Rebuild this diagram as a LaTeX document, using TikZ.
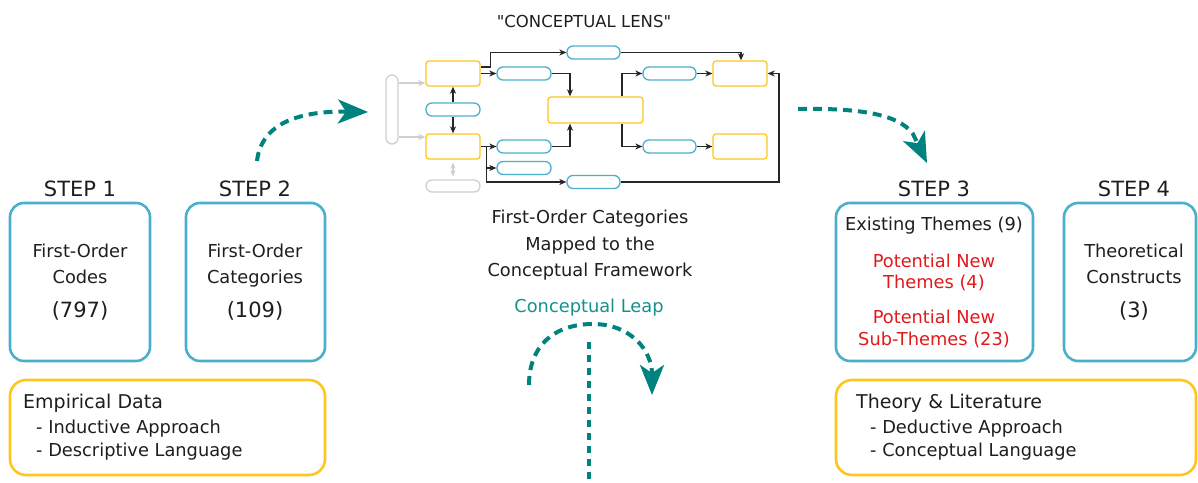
\documentclass[tikz,border=0pt]{standalone}
\usepackage{fontspec}
\setmainfont{DejaVu Sans}
\usetikzlibrary{arrows.meta,calc}
\definecolor{bbox}{HTML}{4BAFCB}
\definecolor{ybox}{HTML}{FFC61A}
\definecolor{tealc}{HTML}{00827F}
\definecolor{tealt}{HTML}{16908C}
\definecolor{redt}{HTML}{E0191B}
\definecolor{txt}{HTML}{1E1E1E}
\definecolor{lgray}{HTML}{CFCFCF}
\begin{document}
\begin{tikzpicture}[x=1pt,y=-1pt,
  stepbox/.style={draw=bbox, line width=2.6pt, rounded corners=14pt, inner sep=0},
  srcbox/.style={draw=ybox, line width=2.6pt, rounded corners=16pt, inner sep=0},
  lbl/.style={font=\fontsize{17.8}{21}\selectfont, text=txt, anchor=base, inner sep=0},
  big/.style={font=\fontsize{21}{25}\selectfont, text=txt, anchor=base, inner sep=0},
  redl/.style={lbl, text=redt},
  lensy/.style={draw=ybox, line width=1.3pt, rounded corners=3pt, minimum width=54pt, minimum height=25pt, inner sep=0},
  lensp/.style={draw=bbox, line width=1.3pt, rounded corners=6pt, minimum width=54pt, minimum height=13pt, inner sep=0},
  lensg/.style={draw=lgray, line width=1.3pt, rounded corners=6pt, inner sep=0},
  conn/.style={draw=black!85, line width=1.1pt, -{Stealth[length=7pt,width=6pt,inset=2pt]}},
  gconn/.style={draw=lgray, line width=1.3pt, -{Stealth[length=7pt,width=6pt,inset=2pt]}},
  leap/.style={draw=tealc, line width=4pt, dash pattern=on 9pt off 6pt, -{Stealth[length=30pt,width=24pt,inset=8pt]}}
]
\useasboundingbox (0,0) rectangle (1198,482);

% ---- step boxes
\node[stepbox, minimum width=140pt, minimum height=158pt] (s1) at (80,282) {};
\node[stepbox, minimum width=139pt, minimum height=158pt] (s2) at (255.5,282) {};
\node[stepbox, minimum width=197pt, minimum height=158pt] (s3) at (934.5,282) {};
\node[stepbox, minimum width=132pt, minimum height=158pt] (s4) at (1130,282) {};
\node[srcbox, minimum width=315pt, minimum height=95pt] (emp) at (167.5,427.5) {};
\node[srcbox, minimum width=360pt, minimum height=95pt] (the) at (1016,427.5) {};

% ---- step labels
\node[big] (l1) at (80,196) {STEP 1};
\node[big] (l2) at (255,196) {STEP 2};
\node[big] (l3) at (934,196) {STEP 3};
\node[big] (l4) at (1134,196) {STEP 4};

% ---- step 1 text
\node[lbl] (t11) at (80,257) {First-Order};
\node[lbl] (t12) at (80,283) {Codes};
\node[big] (t13) at (80,317) {(797)};
% ---- step 2 text
\node[lbl] (t21) at (255,257) {First-Order};
\node[lbl] (t22) at (255,283) {Categories};
\node[big] (t23) at (255,317) {(109)};
% ---- step 3 text
\node[lbl] (t31) at (934,230) {Existing Themes (9)};
\node[redl] (t32) at (934,267) {Potential New};
\node[redl] (t33) at (934,288) {Themes (4)};
\node[redl] (t34) at (934,323) {Potential New};
\node[redl] (t35) at (934,345) {Sub-Themes (23)};
% ---- step 4 text
\node[lbl] (t41) at (1134,257) {Theoretical};
\node[lbl] (t42) at (1134,283) {Constructs};
\node[big] (t43) at (1134,317) {(3)};

% ---- source boxes text
\node[lbl, anchor=base west, font=\fontsize{19}{23}\selectfont] (e1) at (23,408) {Empirical Data};
\node[lbl, anchor=base west] (e2) at (36,433) {- Inductive Approach};
\node[lbl, anchor=base west] (e3) at (36,456) {- Descriptive Language};
\node[lbl, anchor=base west, font=\fontsize{19}{23}\selectfont] (h1) at (856,408) {Theory \& Literature};
\node[lbl, anchor=base west] (h2) at (870,433) {- Deductive Approach};
\node[lbl, anchor=base west] (h3) at (870,456) {- Conceptual Language};

% ---- middle texts
\node[lbl, font=\fontsize{16.5}{20}\selectfont] (lens) at (584,27) {\textquotedbl CONCEPTUAL LENS\textquotedbl};
\node[lbl] (m1) at (590,223) {First-Order Categories};
\node[lbl] (m2) at (590,250) {Mapped to the};
\node[lbl] (m3) at (590,276) {Conceptual Framework};
\node[lbl, text=tealt] (m4) at (589,312) {Conceptual Leap};

% ---- lens diagram
\node[lensy] (A) at (453,73.5) {};
\node[lensy] (B) at (453,146.5) {};
\node[lensy, minimum width=95pt, minimum height=26pt] (C) at (595.5,110) {};
\node[lensy] (D) at (740,73.5) {};
\node[lensy] (E) at (740,146.5) {};
\node[lensp, minimum width=53pt] (p1) at (593.5,52.5) {};
\node[lensp] (p2) at (524,73.5) {};
\node[lensp] (p3) at (453,109.5) {};
\node[lensp] (p4) at (524,146.5) {};
\node[lensp] (p5) at (524,168) {};
\node[lensp, minimum width=53pt] (p6) at (593.5,182) {};
\node[lensp, minimum width=53pt] (p7) at (669.5,73.5) {};
\node[lensp, minimum width=53pt] (p8) at (669.5,146.5) {};
\node[lensg, minimum width=12pt, minimum height=69pt] (g1) at (392,109.5) {};
\node[lensg, minimum width=54pt, minimum height=12pt] (g2) at (453,186) {};

\coordinate (ga) at (0,83);
\coordinate (gb) at (0,137);
\draw[gconn] (g1.east |- ga) -- (A.west |- ga);
\draw[gconn] (g1.east |- gb) -- (B.west |- gb);
\draw[draw=lgray, line width=1.3pt, {Stealth[length=6pt,width=5pt]}-{Stealth[length=6pt,width=5pt]}, shorten <=3pt, shorten >=3pt] (B.south) -- (g2.north);

\coordinate (aj) at ($(A.east)+(10,-6.5)$);
\draw[conn] ($(A.east)+(0,-6.5)$) -- (aj) |- (p1.west);
\draw[conn] (p1.east) -| ($(D.north)+(1,0)$);
\draw[conn] (A.east) -- (p2.west);
\draw[conn] (p2.east) -| ($(C.north)+(-25.5,0)$);
\draw[conn] (p3.north) -- (A.south);
\draw[conn] (p3.south) -- (B.north);
\draw[conn] (B.east) -- (p4.west);
\coordinate (bj) at ($(B.east)+(6,0)$);
\draw[conn] (bj) |- (p5.west);
\draw[conn] (bj) |- (p6.west);
\draw[conn] (p4.east) -| ($(C.south)+(-25.5,0)$);
\draw[conn] ($(C.north)+(26.5,0)$) |- (p7.west);
\draw[conn] ($(C.south)+(26.5,0)$) |- (p8.west);
\draw[conn] (p7.east) -- (D.west);
\draw[conn] (p8.east) -- (E.west);
\coordinate (rr) at (779,73.5);
\draw[conn] (p6.east) -| (rr) -- (D.east);

% ---- teal arrows
\coordinate (a1s) at (257,161);
\coordinate (a1e) at (368,112);
\draw[leap] (a1s) .. controls (262,118) and (310,111) .. (a1e);
\coordinate (a2s) at (798,109);
\coordinate (a2m) at (913,134);
\coordinate (a2e) at (927,163);
\draw[leap] (a2s) .. controls (855,108) and (898,113) .. (a2m) -- (a2e);
\coordinate (a3s) at (529,385);
\coordinate (a3m) at (593,324);
\coordinate (a3e) at (652,395);
\draw[leap] (a3s) .. controls (529,345) and (555,324) .. (a3m) .. controls (630,324) and (652,350) .. (a3e);
\coordinate (vs) at (589,342);
\coordinate (ve) at (589,482);
\draw[draw=tealc, line width=4pt, dash pattern=on 7pt off 6pt] (vs) -- (ve);
\end{tikzpicture}
\end{document}
